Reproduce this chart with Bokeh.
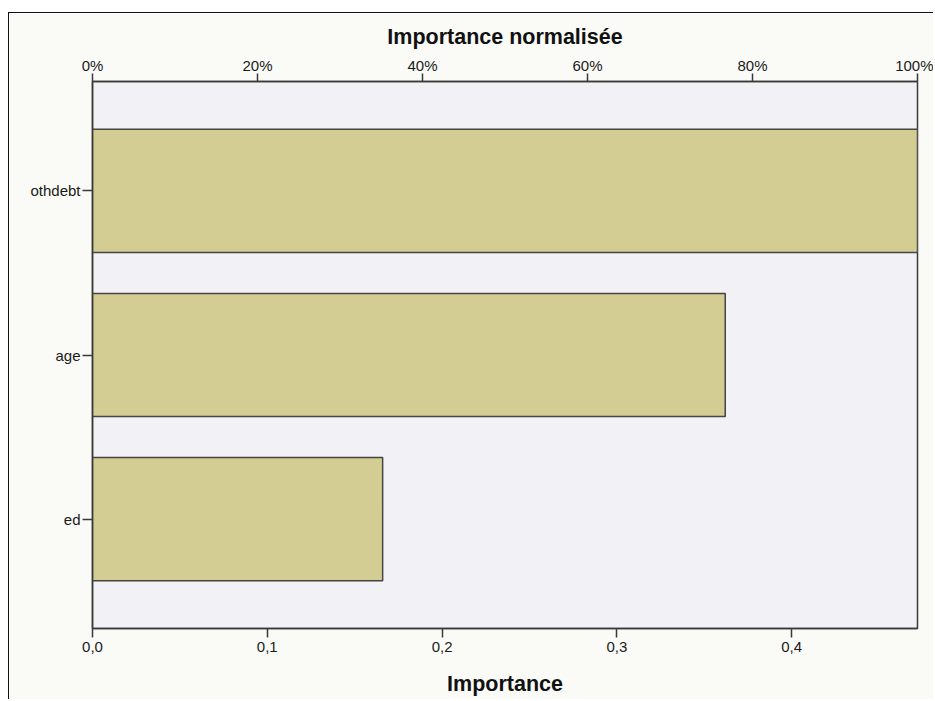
from bokeh.plotting import figure
from bokeh.models import Range1d, LinearAxis, FixedTicker, CustomJSTickFormatter, ColumnDataSource, Spacer
from bokeh.layouts import column, row
from bokeh.embed import file_html
from bokeh.resources import INLINE

# ---- data ----
features = ["othdebt", "age", "ed"]
importance = [0.472, 0.362, 0.166]
bottom_ticks = [0.0, 0.1, 0.2, 0.3, 0.4]
bottom_tick_labels = ["0,0", "0,1", "0,2", "0,3", "0,4"]
top_ticks = [0, 20, 40, 60, 80, 100]
top_tick_labels = ["0%", "20%", "40%", "60%", "80%", "100%"]
bottom_title = "Importance"
top_title = "Importance normalisée"

n = len(features)
ypos = [n - i for i in range(n)]
max_imp = max(importance)

FONT = "Liberation Sans"
DARK = "#3a3a3a"

p = figure(width=925, height=687,
           x_range=Range1d(0, max_imp),
           y_range=Range1d(1 - 2 / 3, n + 2 / 3),
           output_backend="svg", toolbar_location=None,
           min_border_left=83, min_border_right=17,
           min_border_top=68, min_border_bottom=72)

p.background_fill_color = "#F2F1F5"
p.border_fill_color = "#FAFBF7"
p.outline_line_color = DARK
p.outline_line_width = 1.5
p.xgrid.visible = False
p.ygrid.visible = False

p.extra_x_ranges = {"pct": Range1d(0, 100 * max_imp / max(importance))}
top_axis = LinearAxis(x_range_name="pct")
p.add_layout(top_axis, "above")

src = ColumnDataSource(dict(y=ypos, v=importance, name=features))
p.hbar(y="y", left=0, right="v", height=0.75, source=src,
       fill_color="#D3CD94", line_color="#454545", line_width=1.5)

for ax in p.xaxis:
    if ax is top_axis:
        continue
    ax.ticker = FixedTicker(ticks=bottom_ticks)
    ax.formatter = CustomJSTickFormatter(args=dict(labels=bottom_tick_labels), code="return labels[index];")
    ax.axis_label = bottom_title
    ax.major_tick_in = 0
    ax.major_tick_out = 9
    ax.major_label_standoff = 4
    ax.axis_label_standoff = 17

top_axis.ticker = FixedTicker(ticks=top_ticks)
top_axis.formatter = CustomJSTickFormatter(args=dict(labels=top_tick_labels), code="return labels[index];")
top_axis.axis_label = top_title
top_axis.major_tick_in = 0
top_axis.major_tick_out = 8
top_axis.major_label_standoff = 0
top_axis.axis_label_standoff = 5

ya = p.yaxis[0]
ya.ticker = FixedTicker(ticks=ypos)
ya.major_label_overrides = {int(y): f for y, f in zip(ypos, features)}
ya.major_tick_in = 0
ya.major_tick_out = 10
ya.major_label_standoff = 2

for ax in list(p.xaxis) + list(p.yaxis):
    ax.minor_tick_line_color = None
    ax.axis_line_color = DARK
    ax.axis_line_width = 1.5
    ax.major_tick_line_color = DARK
    ax.major_tick_line_width = 1.5
    ax.major_label_text_font = FONT
    ax.major_label_text_font_size = "15px"
    ax.major_label_text_color = "#1a1a1a"
    ax.axis_label_text_font = FONT
    ax.axis_label_text_font_size = "21.5px"
    ax.axis_label_text_font_style = "bold"
    ax.axis_label_text_color = "#111111"

p.styles = {"border-left": "1px solid #111111", "border-top": "1px solid #111111"}

layout = row(Spacer(width=8), column(Spacer(height=12), p))
open("out.html", "w").write(file_html(layout, INLINE))
